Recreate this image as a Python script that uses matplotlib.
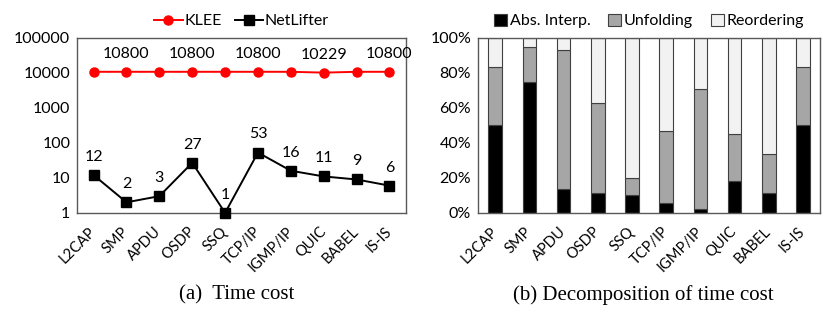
import matplotlib

matplotlib.use("Agg")
import matplotlib.pyplot as plt
import numpy as np

protocols = ["L2CAP", "SMP", "APDU", "OSDP", "SSQ", "TCP/IP", "IGMP/IP", "QUIC", "BABEL", "IS-IS"]
klee = [10800, 10800, 10800, 10800, 10800, 10800, 10800, 10229, 10800, 10800]
netlifter = [12, 2, 3, 27, 1, 53, 16, 11, 9, 6]

abs_interp = [50.0, 75.0, 13.4, 11.3, 10.1, 5.9, 2.1, 18.4, 11.3, 50.0]
unfolding = [33.3, 19.8, 79.9, 51.6, 10.0, 41.1, 68.6, 26.9, 22.2, 33.3]
reordering = [100 - a - u for a, u in zip(abs_interp, unfolding)]

plt.rcParams["font.family"] = ["Lato", "DejaVu Sans"]

fig = plt.figure(figsize=(8.3, 3.22), dpi=100)
ax1 = fig.add_axes((0.093, 0.339, 0.396, 0.543))
ax2 = fig.add_axes((0.576, 0.339, 0.412, 0.543))

x = np.arange(len(protocols))

# (a) time cost, log scale
ax1.plot(x, klee, color="#FF0000", marker="o", markersize=6.5, linewidth=1.4, label="KLEE", clip_on=False)
ax1.plot(x, netlifter, color="black", marker="s", markersize=7, linewidth=1.4, label="NetLifter",
         clip_on=False, zorder=3)
ax1.set_yscale("log")
ax1.set_ylim(1, 100000)
ax1.set_xlim(-0.5, len(protocols) - 0.5)
ax1.set_yticks([1, 10, 100, 1000, 10000, 100000])
ax1.set_yticklabels(["1", "10", "100", "1000", "10000", "100000"], fontsize=11.5)
ax1.minorticks_off()
for i, v in enumerate(netlifter):
    ax1.annotate(str(v), (i, v), xytext=(0, 8), textcoords="offset points",
                 ha="center", va="bottom", fontsize=11.5)
for i, v in enumerate(klee):
    if i % 2 == 1:
        ax1.annotate(str(v), (i, v), xytext=(0, 8), textcoords="offset points",
                     ha="center", va="bottom", fontsize=11.5)
ax1.legend(loc="lower center", bbox_to_anchor=(0.5, 1.0), ncol=2, frameon=False,
           fontsize=11.5, handlelength=1.8, handletextpad=0.1, columnspacing=0.8,
           borderaxespad=0.2)

# (b) decomposition, stacked bars
w = 0.4
edge = "#404040"
ax2.bar(x, abs_interp, w, color="black", edgecolor=edge, linewidth=0.8, label="Abs. Interp.")
ax2.bar(x, unfolding, w, bottom=abs_interp, color="#A6A6A6", edgecolor=edge, linewidth=0.8,
        label="Unfolding")
bottom2 = [a + u for a, u in zip(abs_interp, unfolding)]
ax2.bar(x, reordering, w, bottom=bottom2, color="#F2F2F2", edgecolor=edge, linewidth=0.8,
        label="Reordering")
ax2.set_ylim(0, 100)
ax2.set_xlim(-0.5, len(protocols) - 0.5)
ax2.set_yticks([0, 20, 40, 60, 80, 100])
ax2.set_yticklabels([f"{t}%" for t in range(0, 101, 20)], fontsize=11.5)
ax2.legend(loc="lower center", bbox_to_anchor=(0.5, 1.0), ncol=3, frameon=False,
           fontsize=11.5, handlelength=0.8, handleheight=0.8, handletextpad=0.2,
           columnspacing=1.1, borderaxespad=0.2)

for ax in (ax1, ax2):
    ax.set_xticks(x)
    ax.set_xticklabels(protocols, rotation=45, ha="right", va="center",
                       rotation_mode="anchor", fontsize=10.5)
    ax.tick_params(axis="x", length=0, pad=12)
    ax.tick_params(axis="y", length=0, pad=5)
    for s in ax.spines.values():
        s.set_color("#595959")
        s.set_linewidth(1.0)

fig.text(0.285, 0.084, "(a)  Time cost", ha="center", va="center", fontsize=15,
         family="Liberation Serif")
fig.text(0.775, 0.084, "(b) Decomposition of time cost", ha="center", va="center", fontsize=15,
         family="Liberation Serif")

fig.savefig("out.png", dpi=100)
